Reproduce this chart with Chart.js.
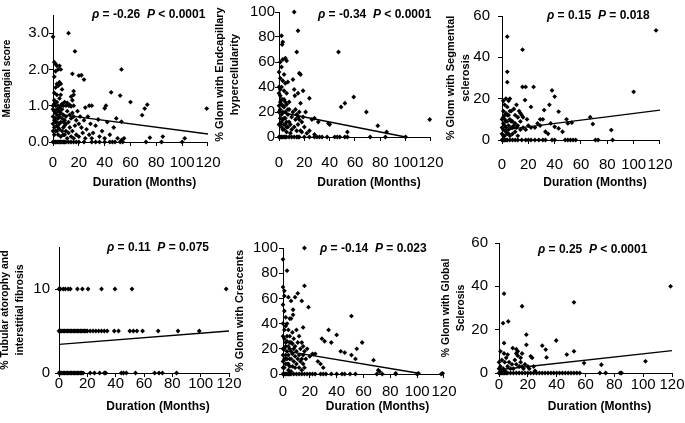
<!DOCTYPE html>
<html>
<head>
<meta charset="utf-8">
<script src="https://cdn.jsdelivr.net/npm/chart.js@4.4.1/dist/chart.umd.min.js"></script>
<style>
html, body { margin: 0; padding: 0; background: #fff; overflow: hidden; }
#fig { position: relative; width: 685px; height: 423px; }
#fig canvas { position: absolute; }
</style>
</head>
<body>
<div id="fig"></div>
<script>
// values: [duration in months, score / %]
const mesangialPts = [
  [0,2.9],[12,3.0],[17,2.5],
  [1,2.2],[2,2.15],[3,2.1],[5,2.1],[2,1.95],[4,2.0],[6,2.0],[15,1.88],[20,1.83],[22,1.84],[24,1.72],
  [1,1.8],[3,1.6],[5,1.65],[6,1.6],[2,1.5],[4,1.55],[7,1.45],[1,1.35],[3,1.3],[6,1.3],[5,1.2],
  [16,1.4],[16,1.3],[15,1.15],[14,1.25],
  [0,1.0],[1,1.05],[2,1.0],[3,1.1],[4,1.0],[5,0.95],[6,1.0],[7,1.05],[8,1.0],[9,1.1],[10,1.0],[11,1.08],[12,1.0],[13,1.02],[14,0.98],[16,1.0],
  [28,1.0],[30,1.0],[25,0.95],[40,0.93],[41,1.0],[45,1.37],[52,1.28],[53,2.0],[60,1.1],[69,0.74],[71,0.92],[73,1.03],[119,0.92],[49,0.65],[53,0.56],
  [0,0.9],[1,0.85],[2,0.8],[3,0.75],[4,0.85],[5,0.7],[6,0.8],[7,0.65],[8,0.75],[9,0.6],[10,0.7],[11,0.85],[12,0.55],[13,0.75],[14,0.65],[15,0.8],
  [16,0.7],[17,0.45],[18,0.6],[19,0.85],[20,0.5],[21,0.7],[22,0.4],[24,0.6],[26,0.35],[27,0.7],[29,0.5],[31,0.25],[33,0.45],[35,0.62],[38,0.3],[42,0.55],[44,0.2],[47,0.4],
  [0,0.5],[1,0.4],[2,0.3],[3,0.45],[4,0.2],[5,0.35],[6,0.15],[7,0.3],[8,0.4],[9,0.2],[10,0.3],[11,0.1],[12,0.25],[13,0.4],[14,0.15],[15,0.3],[16,0.1],
  [0,0.7],[0,0.3],[1,0.6],[1,0.2],[2,0.55],[2,0.65],[3,0.3],[3,0.9],[4,0.65],[4,0.4],[5,0.5],[5,0.85],[6,0.55],[7,0.9],[8,0.55],[8,0.2],[9,0.45],[10,0.5],[1,1.15],[3,0.55],
  [18,0.2],[20,0.15],[23,0.25],[25,0.1],[28,0.2],[30,0.1],[36,0.15],[40,0.1],[50,0.1],[53,0.05],[55,0.1],[75,0.12],[85,0.15],[102,0.1],
  [0,0],[1,0],[2,0],[3,0],[4,0],[5,0],[6,0],[7,0],[8,0],[9,0],[10,0],[12,0],[14,0],[16,0],[18,0],[20,0],[24,0],[30,0],[33,0],[36,0],[40,0],
  [44,0],[46,0],[48,0],[52,0],[54,0],[72,0],[84,0],[100,0]
];
const mesangialFit = [[0,0.78],[120,0.22]];

const endocapPts = [
  [12,100],[15,85],[14,68],[47,68],[2,81],[3,76],[2.5,74],
  [1,60],[3,62],[5,63],[6,61],[2,56],[4,50],[1,47],[3,45],[5,43],[7,44],[0,52],[2,40],[4,37],[6,35],[1,33],[3,30],[8,28],[0,25],
  [16,51],[17,50],[11,46],[12,38],[12.5,33],[15,35],[19,37],[17,27],[24,31],[39,11],[40,10],[49,24],[52,27],[59,32],[69,20],[78,9],[119,14],
  [85,4],[54,4],[31,12],[28,15],
  [0,20],[1,22],[2,18],[3,25],[4,15],[5,20],[6,12],[7,18],[8,22],[9,10],[10,16],[11,20],[12,8],[13,14],[14,18],[15,10],[16,20],[17,5],
  [18,12],[19,16],[20,8],[21,20],[22,3],[24,5],[26,14],[28,2],[1,10],[2,8],[3,14],[4,6],[5,10],[6,4],[7,8],[8,12],[9,3],[10,6],
  [1,28],[2,30],[3,20],[4,24],[5,28],[6,26],[7,22],
  [0,10],[0,35],[1,15],[2,12],[3,6],[4,10],[5,15],[6,8],[2,26],[4,30],[0,40],[1,38],[14,5],[16,14],[18,4],[13,22],[15,16],
  [0,0],[1,0],[2,0],[3,0],[4,0],[5,0],[6,0],[8,0],[10,0],[12,0],[14,0],[15,0],[16,0],[20,0],[24,0],[28,0],[30,0],[32,0],[34,0],
  [38,0],[44,0],[46,0],[48,0],[52,0],[54,0],[72,0],[84,0],[100,0]
];
const endocapFit = [[0,20],[100,0]];

const segmentalPts = [
  [4,50],[4,33],[4,28],[15.6,43.7],[15.6,25.7],[18,25.7],[24,25.7],[17.5,19.3],[22,16],[38,24],[40,21],[36,17],[32,14.5],[29,10],[31,10],
  [43,13.7],[49,10],[50,8],[53,8.4],[67,11],[69,7.7],[100,23.3],[117,53],[83,4.8],[40,6.4],[43,5.6],[46,4],
  [1,19],[3,20],[5,19],[6,20],[2,17],[4,16],[1,14],[3,13],[5,12],[7,14],[0,10],[2,10],[4,9],[6,10],[8,9],[10,8],[12,11],[13,14],[14,13],
  [15,12],[11,6],[9,7],[7,6],[5,5],[3,6],[1,5],[0,3],[2,2],[4,3],[6,2],[8,3],[10,4],[12,2],[14,5],[16,6],[18,5],[20,7],[22,6],[25,6],
  [27,8],[29,7],[33,4],[35,3],[37,8],[1,8],[3,4],[5,7],[2,12],[9,15],[11,17],[1,2],[19,10],
  [0,6],[1,11],[2,7],[3,9],[4,12],[5,3],[6,14],[7,9],[8,6],[10,12],[12,7],[14,9],[16,11],
  [0,0],[1,0],[2,0],[3,0],[4,0],[6,0],[8,0],[10,0],[12,0],[15,0],[18,0],[20,0],[22,0],[25,0],[28,0],[31,0],[33,0],[38,0],[40,0],
  [48,0],[50,0],[52,0],[54,0],[56,0],[71,0],[73,0],[84,0]
];
const segmentalFit = [[0,4.8],[120,14.5]];

const tubularPts = [
  [0,10],[1,10],[3,10],[4.5,10],[6.5,10],[8,10],[13,10],[16.5,10],[20.5,10],[30,10],[39.5,10],[51.5,10],[118,10],
  [0,5],[1,5],[2,5],[3,5],[4,5],[5,5],[6,5],[7,5],[8,5],[9,5],[10,5],[11,5],[12,5],[13,5],[14,5],[15,5],[16,5],[17,5],[18,5],[19,5],
  [20,5],[22,5],[24,5],[26,5],[28,5],[30,5],[32,5],[34,5],[39,5],[42,5],[50,5],[52.5,5],[55,5],[59,5],[70,5],[84,5],[99,5],
  [0,0],[1,0],[2,0],[3,0],[4,0],[5,0],[6,0],[7,0],[8,0],[9,0],[10,0],[11,0],[12,0],[13,0],[14,0],[15,0],[16,0],[17,0],
  [22,0],[25,0],[28.7,0],[32,0],[33,0],[44,0],[45.6,0],[47.5,0],[54,0],[67.5,0],[70.6,0],[73,0],[83,0]
];
const tubularFit = [[0,3.4],[120,5.0]];

const crescentPts = [
  [16,100],[0,91],[3,82],[0,69],[1,66],[16,70],[1,62],[4,61],[6,58],[9,61],[11,64],[14,58],[19,53],[7.5,51],[7.5,47],[6,44],[5,44],
  [15,37],[51,46],[34,35],[40,31],[29,28],[31,26],[36,25],[59,25],[55,20],[43,18],[46,17],[51,15],[54,12],[67.5,11],[22,16],[24,16],
  [71,3],[72,2],[84,0.5],[119,0.5],[101,0.5],
  [0,55],[1,50],[2,45],[3,40],[4,35],[2,38],[0,30],[1,28],[3,26],[5,30],[6,25],[7,33],[8,28],[9,22],[10,35],[11,25],[12,30],[13,20],
  [14,25],[15,22],[16,18],[17,12],[18,20],[20,14],[26,10],[28,8],[30,5],[1,20],[2,22],[3,18],[4,15],[5,20],[6,12],[7,16],[8,10],
  [9,14],[10,8],[11,12],[12,5],[13,10],[14,3],[15,8],[0,10],[1,5],[2,12],[3,8],[4,3],[5,6],[6,2],[0,15],[2,25],[4,22],[6,18],[8,20],
  [0,5],[0,20],[0,40],[1,12],[1,35],[2,8],[2,15],[3,12],[3,30],[4,8],[5,12],[5,25],[7,6],[7,24],[9,5],[10,18],[12,15],[14,12],[15,15],[16,5],
  [0,0],[1,0],[2,0],[3,0],[4,0],[5,0],[6,0],[8,0],[10,0],[12,0],[14,0],[16,0],[18,0],[20,0],[22,0],[24,0],[28,0],[30,0],[32,0],
  [36,0],[40,0],[44,0],[46,0],[50,0],[54,0],[70,0],[74,0],[84,0],[100,0],[118,0]
];
const crescentFit = [[0,18.5],[100,0.8]];

const globalPts = [
  [3.5,36.6],[6.4,23.8],[2.8,23],[16,30.8],[52,32.6],[119,40],[19,17.7],[19,13],[3.5,13.8],[30,12.6],[32.4,10.8],[33,7.2],[39.7,15],
  [47,8.5],[52,10],[59,4.6],[71,3.8],[101.6,5.4],[22,7.7],[23,7],[1,10],[3.5,9],[6,8.5],[9.5,11.5],[12,11],
  [12,9],[13,8],[15,7],[15,5],[14,3],[12,4],[11,6],[16,9],[16,3],[13,10],
  [0,5],[1,3],[2,6],[3,2],[4,5],[5,7],[6,3],[7,5],[8,2],[9,4],[10,2],[0,2],[2,1],[4,1],[17,2],[18,4],[20,3],[21,2],[24,3],[25,1],
  [0,0],[1,0],[2,0],[3,0],[4,0],[5,0],[6,0],[8,0],[10,0],[12,0],[14,0],[16,0],[18,0],[20,0],[22,0],[24,0],[26,0],[28,0],[30,0],
  [32,0],[34,0],[36,0],[38,0],[40,0],[42,0],[44,0],[46,0],[48,0],[50,0],[52,0],[54,0],[56,0],[70,0],[74,0],[84,0],[85,0]
];
const globalFit = [[0,1.5],[120,10.3]];

const xTicks = [0, 20, 40, 60, 80, 100, 120];
const FONT = "'Liberation Sans', Arial, Helvetica, sans-serif";

// one entry per panel; area = plot box on the page
const panels = [
  { pts: mesangialPts, fit: mesangialFit, yMax: 3.5, yStep: 1, yShow: 3, dec: 1,
    yTitle: ['Mesangial score'], tSize: 10, rho: '-0.26', p: '< 0.0001',
    area: {l: 53, t: 15, r: 212, b: 142}, left: 0, top: 0, h: 200, yPad: 0, xPad: 9.5, statX: 92, statY: 15, xTitleY: 183 },
  { pts: endocapPts, fit: endocapFit, yMax: 100, yStep: 20, yShow: 100, dec: 0,
    yTitle: ['% Glom with Endcapillary', 'hypercellularity'], tSize: 11, rho: '-0.34', p: '< 0.0001',
    area: {l: 279, t: 12, r: 440, b: 137}, left: 212, top: 0, h: 200, yPad: 0, xPad: 14.5, statX: 318, statY: 15, xTitleY: 183 },
  { pts: segmentalPts, fit: segmentalFit, yMax: 60, yStep: 20, yShow: 60, dec: 0,
    yTitle: ['% Glom with Segmental', 'sclerosis'], tSize: 11, rho: '0.15', p: '= 0.018',
    area: {l: 502, t: 16, r: 668, b: 140}, left: 443, top: 0, h: 200, yPad: 8, xPad: 13.5, statX: 547, statY: 16, xTitleY: 183 },
  { pts: tubularPts, fit: tubularFit, yMax: 15, yStep: 10, yShow: 10, dec: 0,
    yTitle: ['% Tubular atorophy and', 'interstitial fibrosis'], tSize: 10.5, rho: '0.11', p: '= 0.075',
    area: {l: 59, t: 247, r: 229, b: 373}, left: -2, top: 205, h: 218, yPad: 5, xPad: -0.5, statX: 107, statY: 248, xTitleY: 407 },
  { pts: crescentPts, fit: crescentFit, yMax: 100, yStep: 20, yShow: 100, dec: 0,
    yTitle: ['% Glom with Crescents'], tSize: 11, rho: '-0.14', p: '= 0.023',
    area: {l: 283, t: 248, r: 445, b: 374}, left: 232, top: 205, h: 218, yPad: 1, xPad: 6.5, statX: 320, statY: 249, xTitleY: 407 },
  { pts: globalPts, fit: globalFit, yMax: 60, yStep: 20, yShow: 60, dec: 0,
    yTitle: ['% Glom with Global', 'Sclerosis'], tSize: 10.5, rho: '0.25', p: '< 0.0001',
    area: {l: 499, t: 243, r: 672, b: 373}, left: 439, top: 205, h: 218, yPad: 7, xPad: 0.5, statX: 538, statY: 250, xTitleY: 407 }
];

const annotate = {
  id: 'annotate',
  afterDraw(chart, args, o) {
    const ctx = chart.ctx;
    const ca = chart.chartArea;
    ctx.save();
    ctx.fillStyle = '#000';
    ctx.textBaseline = 'middle';
    ctx.textAlign = 'center';
    ctx.font = 'bold 12px ' + FONT;
    ctx.fillText('Duration (Months)', (ca.left + ca.right) / 2 + 14, o.xTitleY - o.top);
    ctx.textAlign = 'left';
    let x = o.statX - o.left;
    const y = o.statY - o.top;
    const parts = [['\u03C1', true], [' = ' + o.rho + '  ', false], ['P', true], [' ' + o.p, false]];
    parts.forEach(([s, it]) => {
      ctx.font = (it ? 'italic ' : '') + 'bold 12px ' + FONT;
      ctx.fillText(s, x, y);
      x += ctx.measureText(s).width;
    });
    ctx.restore();
  }
};

const fig = document.getElementById('fig');
const X_AXIS_H = 30;

panels.forEach(pn => {
  const cv = document.createElement('canvas');
  const w = pn.area.r + 18 - pn.left;
  cv.width = w;
  cv.height = pn.h;
  cv.style.left = pn.left + 'px';
  cv.style.top = pn.top + 'px';
  cv.style.width = w + 'px';
  cv.style.height = pn.h + 'px';
  fig.appendChild(cv);

  const yW = pn.area.l - pn.left;
  const padTop = pn.area.t - pn.top;
  const padBottom = pn.h - (pn.area.b - pn.top) - X_AXIS_H;
  const tickFont = { family: FONT, size: 15, lineHeight: 1 };

  new Chart(cv.getContext('2d'), {
    type: 'scatter',
    data: {
      datasets: [{
        data: pn.pts.map(([x, y]) => ({ x, y })),
        pointStyle: 'rectRot',
        pointRadius: 2.4,
        backgroundColor: '#000',
        borderWidth: 0,
        clip: false
      }, {
        type: 'line',
        data: pn.fit.map(([x, y]) => ({ x, y })),
        borderColor: '#000',
        borderWidth: 1.3,
        pointRadius: 0,
        fill: false,
        clip: false
      }]
    },
    options: {
      responsive: false,
      animation: false,
      events: [],
      layout: { padding: { left: 0, right: 18, top: padTop, bottom: padBottom } },
      plugins: {
        legend: { display: false },
        tooltip: { enabled: false },
        annotate: { left: pn.left, top: pn.top, statX: pn.statX, statY: pn.statY, rho: pn.rho, p: pn.p, xTitleY: pn.xTitleY }
      },
      scales: {
        x: {
          type: 'linear', min: 0, max: 120,
          afterFit: s => { s.height = X_AXIS_H; },
          afterBuildTicks: s => { s.ticks = xTicks.map(v => ({ value: v })); },
          border: { display: true, color: '#000', width: 1 },
          grid: { drawOnChartArea: false, drawTicks: true, tickLength: 4, color: '#000' },
          ticks: { autoSkip: false, maxRotation: 0, minRotation: 0, color: '#000', font: tickFont, padding: pn.xPad }
        },
        y: {
          type: 'linear', min: 0, max: pn.yMax,
          afterFit: s => { s.width = yW; },
          afterBuildTicks: s => { s.ticks = s.ticks.filter(t => t.value <= pn.yShow + 1e-9); },
          border: { display: true, color: '#000', width: 1 },
          grid: { drawOnChartArea: false, drawTicks: true, tickLength: 4, color: '#000' },
          title: { display: true, text: pn.yTitle, color: '#000', padding: 0,
                   font: { family: FONT, size: pn.tSize, weight: 'bold', lineHeight: 1.4 } },
          ticks: { stepSize: pn.yStep, color: '#000', font: tickFont, padding: pn.yPad,
                   callback: v => v.toFixed(pn.dec) }
        }
      }
    },
    plugins: [annotate]
  });
});
</script>
</body>
</html>
